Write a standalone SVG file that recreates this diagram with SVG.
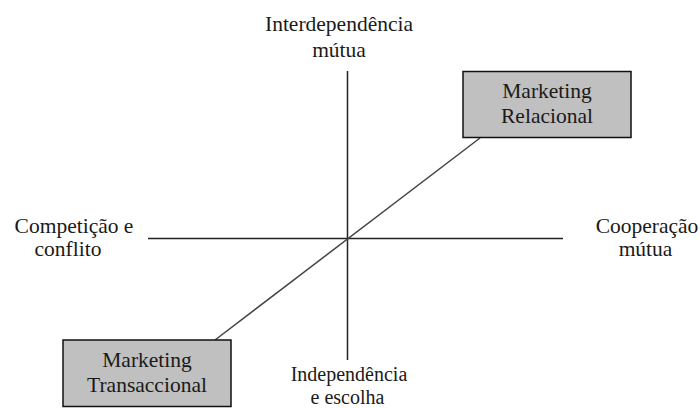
<svg xmlns="http://www.w3.org/2000/svg" width="700" height="408" viewBox="0 0 700 408">
  <style>
    text { font-family: "Times New Roman", Times, "Liberation Serif", Tinos, "Noto Serif", "DejaVu Serif", FreeSerif, serif; font-size: 21.5px; fill: #1a1a1a; text-anchor: middle; }
    .tight { font-size: 20px; }
    .axis { stroke: #222; stroke-width: 1.5; fill: none; }
    .diag { stroke: #444; stroke-width: 1.5; fill: none; }
    .box { fill: #c0c0c0; stroke: #111; stroke-width: 1.5; }
  </style>
  <rect width="700" height="408" fill="#ffffff"/>

  <g id="connectors">
    <line class="axis" x1="347.5" y1="71" x2="347.5" y2="360"/>
    <line class="axis" x1="148" y1="238.5" x2="563" y2="238.5"/>
    <line class="diag" x1="215" y1="340" x2="480" y2="138"/>
  </g>

  <g id="top-label">
    <text x="339" y="31">Interdependência</text>
    <text x="339" y="57">mútua</text>
  </g>

  <g id="left-label">
    <text x="74" y="233">Competição e</text>
    <text x="68" y="256">conflito</text>
  </g>

  <g id="right-label">
    <text x="647" y="233">Cooperação</text>
    <text x="645.5" y="256">mútua</text>
  </g>

  <g id="bottom-label">
    <text class="tight" x="349" y="381">Independência</text>
    <text class="tight" x="347.5" y="404">e escolha</text>
  </g>

  <g id="marketing-relacional">
    <rect class="box" x="463" y="71.5" width="168" height="66"/>
    <text x="547" y="98">Marketing</text>
    <text x="547" y="123">Relacional</text>
  </g>

  <g id="marketing-transaccional">
    <rect class="box" x="63" y="340" width="168" height="66.5"/>
    <text x="147" y="367">Marketing</text>
    <text x="147" y="392">Transaccional</text>
  </g>
</svg>
